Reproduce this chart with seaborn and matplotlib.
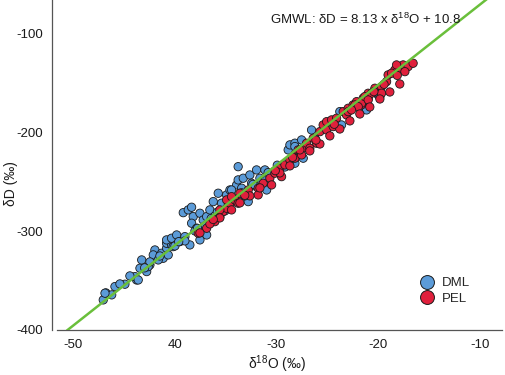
import matplotlib
matplotlib.use("Agg")
import matplotlib.pyplot as plt
import seaborn as sns
import numpy as np
import pandas as pd
from matplotlib.lines import Line2D

# ---- data ----
dml_x = [-47.02, -46.76, -45.87, -44.89, -46.19, -43.74, -46.85, -43.90, -43.58, -43.41,
         -43.24, -42.75, -42.43, -41.94, -41.77, -42.10, -41.28, -41.12, -40.79, -40.79,
         -40.46, -40.30, -40.63, -41.61, -42.60, -40.79, -40.30, -39.80, -39.15, -38.66,
         -38.33, -38.17, -38.33, -37.84, -39.48, -38.99, -37.51, -37.19, -36.85, -36.53,
         -36.20, -35.71, -35.38, -34.89, -34.56, -33.90, -33.75, -36.85, -37.51, -38.50,
         -40.14, -33.75, -33.25, -32.60, -31.94, -31.61, -30.95, -32.43, -33.41, -34.40,
         -33.75, -32.76, -28.83, -28.66, -28.17, -27.51, -28.17, -31.12, -28.17, -27.35,
         -26.53, -26.20, -23.75, -23.58, -21.12, -20.96, -19.98, -19.81, -21.12,
         -41.45, -39.97, -38.99, -38.00, -37.02, -36.04, -35.05, -34.07, -33.09, -32.10,
         -31.12, -30.14, -29.15, -42.43, -44.40, -45.38,
         -39.60, -37.75, -36.40, -35.80, -34.70, -33.40, -32.30, -30.80, -29.90, -42.95]
dml_y = [-369.5, -362.4, -356.0, -353.6, -364.4, -349.3, -362.7, -345.9, -349.3, -337.4,
         -329.0, -340.8, -334.0, -318.9, -325.6, -323.9, -322.2, -327.3, -317.1, -312.1,
         -308.7, -313.8, -323.9, -329.0, -335.8, -308.7, -307.0, -303.7, -281.1, -278.3,
         -275.6, -285.1, -291.8, -296.9, -310.4, -305.4, -281.7, -288.5, -285.1, -278.3,
         -269.9, -261.4, -271.5, -263.1, -258.1, -253.0, -247.9, -303.7, -308.7, -313.8,
         -315.5, -234.5, -246.2, -242.9, -237.8, -246.2, -258.1, -251.3, -256.3, -258.1,
         -266.5, -269.9, -217.5, -212.4, -210.7, -207.4, -231.0, -237.8, -214.1, -225.9,
         -197.3, -205.7, -178.7, -192.2, -175.3, -165.1, -161.8, -163.5, -177.0,
         -325.0, -314.8, -309.7, -299.6, -294.5, -284.4, -279.3, -269.2, -264.1, -254.0,
         -248.9, -238.8, -234.8, -331.0, -345.2, -353.3,
         -310.5, -297.0, -287.0, -280.5, -272.0, -261.0, -252.5, -240.5, -233.0, -337.0]

pel_x = [-37.68, -36.85, -36.04, -35.55, -35.22, -34.89, -34.56, -34.40, -34.07, -33.75,
         -34.89, -35.55, -34.40, -33.58, -32.76, -31.78, -31.29, -30.63, -30.14, -29.65,
         -29.15, -28.66, -28.17, -27.85, -27.35, -31.78, -30.46, -29.48, -28.17, -27.51,
         -27.68, -27.02, -26.37, -25.71, -25.39, -25.05, -24.56, -24.07, -23.42, -22.93,
         -22.44, -22.10, -21.61, -21.45, -20.96, -25.05, -26.04, -26.70, -23.09, -24.40,
         -22.93, -22.27, -21.61, -21.29, -20.63, -20.30, -19.65, -19.15, -19.00, -18.34,
         -17.85, -17.52, -17.03, -16.54, -17.35, -18.17, -18.66, -19.65, -20.96, -21.94,
         -37.51, -36.53, -35.55, -33.58, -32.60, -31.61, -29.65, -28.66, -26.70, -25.71,
         -24.73, -23.75, -22.76, -21.78, -20.80, -19.81, -18.83, -17.85,
         -36.20, -33.10, -30.10, -28.40, -26.10, -24.30, -22.60, -20.40, -19.40, -18.10]
pel_y = [-301.9, -296.9, -290.2, -285.1, -280.0, -276.6, -271.5, -278.3, -268.2, -271.5,
         -268.2, -278.3, -264.9, -261.4, -258.1, -256.3, -251.3, -246.2, -241.1, -236.1,
         -232.7, -227.7, -222.6, -217.5, -215.8, -263.1, -253.0, -244.6, -225.9, -222.6,
         -217.5, -210.7, -205.7, -199.0, -192.2, -188.9, -187.1, -185.4, -178.7, -175.3,
         -171.9, -168.6, -171.9, -165.1, -160.1, -197.3, -210.7, -215.8, -182.1, -193.9,
         -178.7, -171.9, -170.2, -163.5, -160.1, -155.0, -153.4, -148.3, -141.5, -136.5,
         -134.8, -131.4, -133.1, -129.7, -138.2, -131.4, -139.8, -160.1, -166.9, -173.7,
         -301.6, -292.5, -286.4, -271.2, -264.1, -256.0, -240.8, -233.7, -218.5, -211.5,
         -203.3, -196.3, -188.1, -181.1, -174.0, -165.9, -158.8, -150.7,
         -288.0, -263.5, -238.5, -225.0, -207.5, -191.5, -177.0, -158.5, -151.0, -142.0]

groups = ["DML", "PEL"]
colors = ["#5b9bd8", "#e0203c"]
gmwl_slope = 8.13
gmwl_intercept = 10.8
gmwl_x = [-50.6, -9.0]
x_ticks = [-50, -40, -30, -20, -10]
x_tick_labels = ["-50", "40", "-30", "-20", "-10"]
y_ticks = [-100, -200, -300, -400]
y_tick_labels = ["-100", "-200", "-300", "-400"]

# ---- build table ----
df = pd.DataFrame({
    "x": dml_x + pel_x,
    "y": dml_y + pel_y,
    "group": ["DML"] * len(dml_x) + ["PEL"] * len(pel_x),
})
line_df = pd.DataFrame({"x": gmwl_x,
                        "y": [gmwl_slope * v + gmwl_intercept for v in gmwl_x]})

sns.set_style("white")
plt.rcParams["font.family"] = ["Liberation Sans", "DejaVu Sans"]
plt.rcParams["mathtext.fontset"] = "custom"
plt.rcParams["mathtext.rm"] = "Liberation Sans"
plt.rcParams["mathtext.it"] = "Liberation Sans:italic"

fig = plt.figure(figsize=(5.05, 3.75), dpi=100)
ax = fig.add_axes([0.103, 0.12, 0.891, 0.88])

sns.scatterplot(data=df, x="x", y="y", hue="group", hue_order=groups,
                palette=dict(zip(groups, colors)), s=36, edgecolor="#1a1a1a",
                linewidth=0.6, legend=False, ax=ax, zorder=2)
sns.lineplot(data=line_df, x="x", y="y", color="#6abf3b", linewidth=1.8,
             ax=ax, zorder=3)

ax.set_xlim(-52.06, -7.8)
ax.set_ylim(-400, -65.6)
ax.set_xticks(x_ticks)
ax.set_xticklabels(x_tick_labels)
ax.set_yticks(y_ticks)
ax.set_yticklabels(y_tick_labels)

for side in ["top", "right"]:
    ax.spines[side].set_visible(False)
for side in ["left", "bottom"]:
    ax.spines[side].set_color("#555555")
    ax.spines[side].set_linewidth(0.9)
ax.spines["bottom"].set_bounds(-51.55, -7.8)

ax.tick_params(axis="both", direction="inout", length=7, width=0.8,
               color="#888888", labelsize=9.5, labelcolor="#1a1a1a", pad=3)

ax.set_xlabel("δ$^{18}$O (‰)", fontsize=10, color="#1a1a1a")
ax.set_ylabel("δD (‰)", fontsize=10, color="#1a1a1a")
ax.xaxis.set_label_coords(0.5, -0.072)
ax.yaxis.set_label_coords(-0.075, 0.445)

ax.text(0.484, 0.94, "GMWL: δD = 8.13 x δ$^{18}$O + 10.8",
        transform=ax.transAxes, fontsize=9.5, color="#1a1a1a",
        ha="left", va="center")

handles = [Line2D([0], [0], marker="o", linestyle="none", markersize=10,
                  markerfacecolor=c, markeredgecolor="#1a1a1a",
                  markeredgewidth=0.7, label=g) for g, c in zip(groups, colors)]
ax.legend(handles=handles, loc="lower right", bbox_to_anchor=(0.94, 0.06),
          frameon=False, fontsize=9.5, handletextpad=0.1, labelspacing=0.25,
          borderaxespad=0)

ax.grid(False)
fig.savefig("out.png", dpi=100)
